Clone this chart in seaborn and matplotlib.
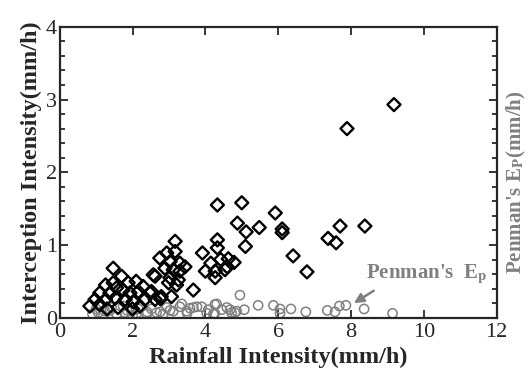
import numpy as np
import pandas as pd
import matplotlib
matplotlib.use("Agg")
import matplotlib.pyplot as plt
import seaborn as sns
from matplotlib.ticker import MultipleLocator

# interception intensity (diamonds)
rain_i = [9.18, 7.89, 4.33, 5.00, 5.92, 4.88, 5.12, 5.48, 5.10,
          6.11, 6.11, 6.41, 6.79, 7.37, 7.59, 7.70, 8.38,
          4.33, 4.33, 3.92, 4.15, 4.42, 4.63, 4.79, 4.60, 4.00, 4.27, 4.54, 4.27, 3.67,
          3.17, 2.94, 3.17, 2.75, 3.03, 3.30, 3.44, 2.89, 3.12, 3.30, 2.57, 3.03, 3.26,
          2.99, 3.21, 2.79, 3.07, 2.52, 2.62,
          1.47, 1.70, 1.47, 1.26, 1.88, 2.10, 2.29, 1.56, 1.74, 1.10, 1.38, 1.93, 2.16,
          2.48, 0.97, 1.26, 1.53, 1.80, 2.02, 2.34, 2.62, 0.83, 1.10, 2.77, 2.00, 1.30,
          1.60, 2.20]
interception = [2.93, 2.60, 1.55, 1.58, 1.44, 1.30, 1.18, 1.24, 0.98,
                1.22, 1.17, 0.85, 0.63, 1.09, 1.03, 1.26, 1.26,
                1.07, 0.96, 0.89, 0.75, 0.80, 0.81, 0.76, 0.70, 0.64, 0.64, 0.66, 0.55, 0.38,
                1.05, 0.89, 0.91, 0.82, 0.77, 0.75, 0.70, 0.68, 0.66, 0.64, 0.59, 0.55, 0.52,
                0.48, 0.45, 0.29, 0.29, 0.36, 0.57,
                0.68, 0.57, 0.48, 0.45, 0.48, 0.50, 0.43, 0.41, 0.38, 0.34, 0.34, 0.34, 0.36,
                0.34, 0.25, 0.25, 0.27, 0.25, 0.22, 0.25, 0.25, 0.16, 0.18, 0.26, 0.12, 0.12,
                0.14, 0.16]

# Penman's Ep (circles)
rain_p = [0.90, 1.06, 1.10, 1.24, 1.42, 1.56, 1.74, 1.79, 1.97, 2.16, 2.39, 2.52, 2.66,
          2.84, 2.94, 3.12, 3.35, 3.49, 3.67, 3.90, 4.08, 4.22, 4.31, 4.45, 4.59, 4.72,
          4.86, 5.07, 4.95, 5.45, 5.87, 6.05, 6.05, 6.35, 6.76, 7.35, 7.56, 7.68, 7.86,
          8.36, 9.14, 1.38, 1.85, 2.12, 2.40, 2.76, 3.03, 3.30, 3.58, 3.77, 4.04, 4.26,
          4.26, 4.68, 4.81, 3.50, 1.00, 1.20, 2.00]
penman = [0.05, 0.07, 0.16, 0.09, 0.14, 0.05, 0.16, 0.07, 0.09, 0.12, 0.05, 0.12, 0.07,
          0.05, 0.14, 0.09, 0.19, 0.09, 0.14, 0.15, 0.11, 0.05, 0.19, 0.11, 0.14, 0.07,
          0.09, 0.11, 0.31, 0.17, 0.17, 0.12, 0.06, 0.12, 0.08, 0.10, 0.08, 0.16, 0.17,
          0.12, 0.06, 0.10, 0.10, 0.06, 0.08, 0.08, 0.10, 0.15, 0.13, 0.15, 0.06, 0.06,
          0.18, 0.11, 0.07, 0.06, 0.12, 0.03, 0.03]

df_i = pd.DataFrame({"rain": rain_i, "val": interception})
df_p = pd.DataFrame({"rain": rain_p, "val": penman})

sns.set_style("ticks")
plt.rcParams["font.family"] = ["Liberation Serif", "DejaVu Serif"]
plt.rcParams["mathtext.fontset"] = "stix"

fig = plt.figure(figsize=(5.3, 3.72), dpi=100)
ax = fig.add_axes([0.1126, 0.146, 0.8245, 0.782])

gray = "#808080"
sns.scatterplot(data=df_p, x="rain", y="val", ax=ax, marker="o", s=44,
                facecolor="none", edgecolor=gray, linewidth=1.1, zorder=2)
sns.scatterplot(data=df_i, x="rain", y="val", ax=ax, marker="D", s=44,
                facecolor="none", edgecolor="black", linewidth=1.7, zorder=3)

ax.set_xlim(0, 12)
ax.set_ylim(0, 4)
ax.xaxis.set_major_locator(MultipleLocator(2))
ax.yaxis.set_major_locator(MultipleLocator(1))
ax.yaxis.set_minor_locator(MultipleLocator(0.2))
ax.tick_params(which="both", direction="in", top=True, right=True,
               labelsize=16, width=1.3)
ax.tick_params(axis="x", pad=4)
ax.tick_params(axis="y", pad=2)
ax.tick_params(which="major", length=6)
ax.tick_params(which="minor", length=3.5)
for s in ax.spines.values():
    s.set_linewidth(1.6)

ax.set_xlabel("Rainfall Intensity(mm/h)", fontsize=17.5, fontweight="bold", labelpad=3)
ax.set_ylabel("Interception Intensity(mm/h)", fontsize=17.5, fontweight="bold", labelpad=3)
fig.text(0.975, 0.51, r"Penman's E$_{\mathbf{P}}$(mm/h)", rotation=90, ha="center",
         va="center", fontsize=15, fontweight="bold", color=gray)

ax.annotate(r"Penman's  E$_{\mathbf{p}}$", xy=(8.08, 0.20), xytext=(8.4, 0.6),
            fontsize=15, fontweight="bold", color=gray, va="center", ha="left",
            arrowprops=dict(arrowstyle="-|>", color=gray, lw=1.8,
                            shrinkA=2, shrinkB=0, mutation_scale=14,
                            relpos=(0.13, 0.0)))

fig.savefig("out.png", dpi=100)
